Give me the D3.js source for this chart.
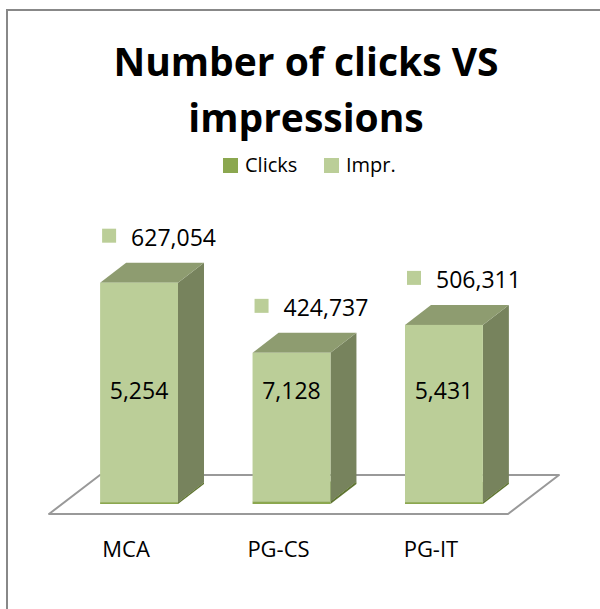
<!DOCTYPE html>
<html>
<head>
<meta charset="utf-8">
<script src="https://cdn.jsdelivr.net/npm/d3@7"></script>
<style>
  html, body { margin: 0; padding: 0; background: #fff; }
  svg text { font-family: "Open Sans", "DejaVu Sans", sans-serif; fill: #000; }
</style>
</head>
<body>
<div id="chart"></div>
<script>
const categories = ['MCA', 'PG-CS', 'PG-IT'];
const clicks = [5254, 7128, 5431];
const impressions = [627054, 424737, 506311];
const seriesNames = ['Clicks', 'Impr.'];

const width = 600;
const height = 609;

const colors = {
  clicks: '#8ba74f',
  imprFront: '#bbce98',
  imprTop: '#8e9c70',
  imprSide: '#77835d',
  clicksTop: '#6f8a3b',
  clicksSide: '#5f7432',
  floor: '#999',
};

// floor depth and where the bars stand inside it
const floorDepth = { dx: 51, dy: -39 };
const barOffset = { dx: 13, dy: -10 };
const barDepth = { dx: 26, dy: -20 };

const svg = d3.select('#chart').append('svg')
  .attr('width', width)
  .attr('height', height);

// outer frame (runs off the right and bottom edge)
svg.append('rect')
  .attr('x', 7)
  .attr('y', 10)
  .attr('width', width + 20)
  .attr('height', height + 20)
  .attr('fill', '#fff')
  .attr('stroke', '#888')
  .attr('stroke-width', 2);

const x = d3.scaleBand()
  .domain(categories)
  .range([49, 508])
  .paddingInner(0.489)
  .paddingOuter(0.25);

const y = d3.scaleLinear()
  .domain([0, 700000])
  .range([504, 259]);

const floorFront = y(0) - barOffset.dy;
const [fx0, fx1] = x.range();

// floor
svg.append('polygon')
  .attr('points', [
    [fx0, floorFront],
    [fx1, floorFront],
    [fx1 + floorDepth.dx, floorFront + floorDepth.dy],
    [fx0 + floorDepth.dx, floorFront + floorDepth.dy],
  ].map((p) => p.join(',')).join(' '))
  .attr('fill', '#fff')
  .attr('stroke', colors.floor)
  .attr('stroke-width', 2)
  .attr('stroke-linejoin', 'round');

const data = categories.map((c, i) => ({
  cat: c,
  clicks: clicks[i],
  impr: impressions[i],
  total: clicks[i] + impressions[i],
}));

const bw = x.bandwidth();
const barX = (d) => x(d.cat) + barOffset.dx;

const drawSegment = (g, v0, v1, front, top, side) => {
  const x0 = 0;
  const x1 = bw;
  const yTop = y(v1);
  const yBot = y(v0);
  const pts = (arr) => arr.map((p) => p.join(',')).join(' ');
  g.append('polygon')
    .attr('points', pts([
      [x1, yTop], [x1 + barDepth.dx, yTop + barDepth.dy],
      [x1 + barDepth.dx, yBot + barDepth.dy], [x1, yBot],
    ]))
    .attr('fill', side);
  g.append('polygon')
    .attr('points', pts([
      [x0, yTop], [x0 + barDepth.dx, yTop + barDepth.dy],
      [x1 + barDepth.dx, yTop + barDepth.dy], [x1, yTop],
    ]))
    .attr('fill', top);
  g.append('rect')
    .attr('x', x0)
    .attr('y', yTop)
    .attr('width', bw)
    .attr('height', Math.max(0, yBot - yTop))
    .attr('fill', front);
};

const bars = svg.append('g').selectAll('g.bar')
  .data(data)
  .enter()
  .append('g')
  .attr('class', 'bar')
  .attr('transform', (d) => `translate(${barX(d)},0)`);

bars.each(function (d) {
  const g = d3.select(this);
  drawSegment(g, 0, d.clicks, colors.clicks, colors.clicksTop, colors.clicksSide);
  drawSegment(g, d.clicks, d.total, colors.imprFront, colors.imprTop, colors.imprSide);
});

// clicks labels, inside the bars
bars.append('text')
  .attr('x', bw / 2)
  .attr('y', 399)
  .attr('text-anchor', 'middle')
  .style('font-size', '23px')
  .text((d) => d3.format(',')(d.clicks));

// impressions labels with legend key, above the bars
const imprLabel = bars.append('g')
  .attr('transform', (d) => `translate(0,${y(d.total) + barDepth.dy - 17})`);

imprLabel.append('rect')
  .attr('x', 2)
  .attr('y', -17)
  .attr('width', 14)
  .attr('height', 14)
  .attr('fill', colors.imprFront);

imprLabel.append('text')
  .attr('x', 31)
  .attr('y', 0)
  .style('font-size', '23px')
  .text((d) => d3.format(',')(d.impr));

// category labels
svg.append('g').selectAll('text.cat')
  .data(categories)
  .enter()
  .append('text')
  .attr('class', 'cat')
  .attr('x', (c) => x(c) + bw / 2)
  .attr('y', 557)
  .attr('text-anchor', 'middle')
  .style('font-size', '22px')
  .text((c) => c);

// title
const title = svg.append('text')
  .attr('text-anchor', 'middle')
  .style('font-size', '39px')
  .style('font-weight', 'bold');
title.append('tspan').attr('x', 306).attr('y', 76).text('Number of clicks VS');
title.append('tspan').attr('x', 306).attr('y', 132).text('impressions');

// legend
const legend = svg.append('g').attr('transform', 'translate(223,158)');
const legendX = [0, 101];
const legendColors = [colors.clicks, colors.imprFront];
seriesNames.forEach((name, i) => {
  const item = legend.append('g').attr('transform', `translate(${legendX[i]},0)`);
  item.append('rect')
    .attr('width', 15)
    .attr('height', 15)
    .attr('fill', legendColors[i]);
  item.append('text')
    .attr('x', 22)
    .attr('y', 14)
    .style('font-size', '20px')
    .text(name);
});
</script>
</body>
</html>
